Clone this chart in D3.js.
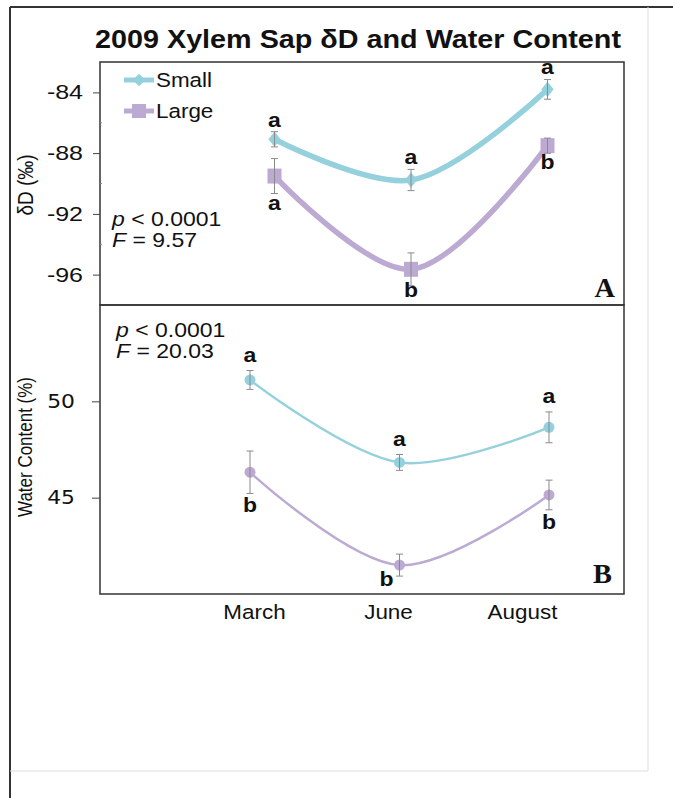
<!DOCTYPE html>
<html>
<head>
<meta charset="utf-8">
<script src="https://cdn.jsdelivr.net/npm/d3@7"></script>
<style>
  body { margin: 0; background: #fff; }
</style>
</head>
<body>
<div id="chart"></div>
<script>
// DATA
const months = ["March", "June", "August"]
const dTicks = [-84, -88, -92, -96]
const dMinor = [-86, -90, -94]
const wcTicks = [45, 50]

const smallD = [-87.09, -89.77, -83.80]
const smallDErr = [0.5, 0.7, 0.65]
const largeD = [-89.51, -95.65, -87.51]
const largeDErr = [1.15, 1.08, 0.5]

const smallWC = [51.11, 46.83, 48.65]
const smallWCErr = [0.49, 0.41, 0.8]
const largeWC = [46.32, 41.5, 45.14]
const largeWCErr = [1.1, 0.57, 0.77]

const smallDLetters = ["a", "a", "a"]
const largeDLetters = ["a", "b", "b"]
const smallWCLetters = ["a", "a", "a"]
const largeWCLetters = ["b", "b", "b"]

const seriesNames = ["Small", "Large"]
const colors = ["#95d0dd", "#bcaad3"]

const width = 673, height = 798
const SX = 1.15   // the figure is a little stretched sideways
const SANS = "'Liberation Sans', Arial, sans-serif"
const SERIF = "'Liberation Serif', 'Times New Roman', serif"

const svg = d3.select("#chart").append("svg")
    .attr("width", width)
    .attr("height", height)

// helper for stretched text
function txt(g, x, y, s, size, opts) {
  opts = opts || {}
  return g.append("text")
    .attr("transform", `translate(${x},${y}) scale(${opts.sx || SX},1)` + (opts.rotate ? " rotate(-90)" : ""))
    .attr("text-anchor", opts.anchor || "start")
    .style("font-size", size + "px")
    .style("font-weight", opts.bold ? "bold" : "normal")
    .style("font-family", opts.family || SANS)
    .attr("fill", "#111")
    .text(s)
}

// OUTER FRAME
svg.append("line").attr("x1", 10).attr("x2", 673).attr("y1", 7).attr("y2", 7)
    .attr("stroke", "#333").attr("stroke-width", 2)
svg.append("line").attr("x1", 10).attr("x2", 10).attr("y1", 7).attr("y2", 798)
    .attr("stroke", "#333").attr("stroke-width", 2)
svg.append("line").attr("x1", 648).attr("x2", 648).attr("y1", 7).attr("y2", 771)
    .attr("stroke", "#ddd").attr("stroke-width", 1)
svg.append("line").attr("x1", 10).attr("x2", 648).attr("y1", 771).attr("y2", 771)
    .attr("stroke", "#ddd").attr("stroke-width", 1)

// TITLE
txt(svg, 358, 48, "2009 Xylem Sap δD and Water Content", 25, {anchor: "middle", bold: true})

// SCALES
const boxL = 100, boxR = 624
const xA = d3.scalePoint().domain(months).range([274.5, 547.5])
const xB = d3.scalePoint().domain(months).range([250, 549])
const xLab = d3.scalePoint().domain(months).range([254, 522])

const yA = d3.scaleLinear().domain([-98, -82]).range([305, 62])
const yB = d3.scaleLinear().domain([40, 55]).range([594, 305])

// PANEL BOXES
svg.append("rect").attr("x", boxL).attr("y", yA(-82)).attr("width", boxR - boxL).attr("height", yA(-98) - yA(-82))
    .attr("fill", "none").attr("stroke", "#333").attr("stroke-width", 1.5)
svg.append("rect").attr("x", boxL).attr("y", yB(55)).attr("width", boxR - boxL).attr("height", yB(40) - yB(55))
    .attr("fill", "none").attr("stroke", "#333").attr("stroke-width", 1.5)

// AXES
const axA = svg.append("g").attr("transform", `translate(${boxL},0)`)
    .call(d3.axisLeft(yA).tickValues(dTicks).tickSize(7).tickPadding(4).tickFormat(d => String(d)))
axA.select(".domain").remove()
axA.selectAll(".tick line").attr("stroke", "#444")
axA.selectAll(".tick text")
    .style("font-size", "20px").style("font-family", SANS).attr("fill", "#111")
    .attr("transform", "scale(1.25,1)").attr("x", -17 / 1.25)

svg.append("g").selectAll("line").data(dMinor).join("line")
    .attr("x1", boxL).attr("x2", boxL + 2)
    .attr("y1", d => yA(d)).attr("y2", d => yA(d))
    .attr("stroke", "#888")

const axB = svg.append("g").attr("transform", `translate(${boxL},0)`)
    .call(d3.axisLeft(yB).tickValues(wcTicks).tickSize(8).tickPadding(4))
axB.select(".domain").remove()
axB.selectAll(".tick line").attr("stroke", "#444")
axB.selectAll(".tick text")
    .style("font-size", "19px").style("font-family", "'DejaVu Sans', sans-serif").attr("fill", "#111")
    .attr("transform", `scale(${SX},1)`).attr("x", -25 / SX)

const axX = svg.append("g").attr("transform", `translate(0,${yB(40)})`)
    .call(d3.axisBottom(xLab).tickSize(0).tickPadding(11))
axX.select(".domain").remove()
axX.selectAll(".tick text")
    .style("font-size", "19.5px").style("font-family", SANS).attr("fill", "#111")
    .attr("transform", `scale(${SX},1)`)

// AXIS TITLES
txt(svg, 33, 185, "δD (‰)", 19, {anchor: "middle", rotate: true})
txt(svg, 32, 447, "Water Content (%)", 17, {anchor: "middle", rotate: true})

// LINES
const curve = d3.curveCatmullRom.alpha(0.5)

function drawSeries(x, y, vals, errs, color, lw, marker, letters, aboveOff, belowOff, above) {
  const pts = vals.map((v, i) => ({m: months[i], v: v, e: errs[i], l: letters[i]}))
  const line = d3.line().x(d => x(d.m)).y(d => y(d.v)).curve(curve)
  svg.append("path").datum(pts).attr("d", line)
      .attr("fill", "none").attr("stroke", color).attr("stroke-width", lw)
      .attr("stroke-linecap", "round")

  const g = svg.append("g")
  if (marker === "diamond") {
    g.selectAll("path").data(pts).join("path")
        .attr("d", d3.symbol().type(d3.symbolDiamond2).size(120))
        .attr("transform", d => `translate(${x(d.m)},${y(d.v)}) scale(0.9,1.1)`)
        .attr("fill", color)
  } else if (marker === "square") {
    g.selectAll("rect").data(pts).join("rect")
        .attr("x", d => x(d.m) - 7).attr("y", d => y(d.v) - 7.5)
        .attr("width", 14).attr("height", 15)
        .attr("fill", color)
  } else {
    g.selectAll("circle").data(pts).join("circle")
        .attr("cx", d => x(d.m)).attr("cy", d => y(d.v)).attr("r", 5.5)
        .attr("fill", color)
  }

  // ERROR BARS
  const eb = svg.append("g").attr("stroke", "#8a8a8a").attr("stroke-width", 1)
  eb.selectAll(".v").data(pts).join("line")
      .attr("x1", d => x(d.m)).attr("x2", d => x(d.m))
      .attr("y1", d => y(d.v + d.e)).attr("y2", d => y(d.v - d.e))
  eb.selectAll(".t").data(pts).join("line")
      .attr("x1", d => x(d.m) - 3.5).attr("x2", d => x(d.m) + 3.5)
      .attr("y1", d => y(d.v + d.e)).attr("y2", d => y(d.v + d.e))
  eb.selectAll(".b").data(pts).join("line")
      .attr("x1", d => x(d.m) - 3.5).attr("x2", d => x(d.m) + 3.5)
      .attr("y1", d => y(d.v - d.e)).attr("y2", d => y(d.v - d.e))

  // SIGNIFICANCE LETTERS
  const floor = y.range()[0] - 8
  pts.forEach(d => {
    let xx = x(d.m)
    let yy = above ? y(d.v + d.e) - aboveOff : y(d.v - d.e) + belowOff
    if (yy > floor) {
      // too close to the bottom of the box: nudge up, and sideways if needed
      if (yy - floor > 5) xx -= 13
      yy = floor
    }
    txt(svg, xx, yy, d.l, 20, {anchor: "middle", bold: true})
  })
}

drawSeries(xA, yA, smallD, smallDErr, colors[0], 5.5, "diamond", smallDLetters, 5, 16, true)
drawSeries(xA, yA, largeD, largeDErr, colors[1], 5.5, "square", largeDLetters, 5, 16, false)
drawSeries(xB, yB, smallWC, smallWCErr, colors[0], 2.5, "circle", smallWCLetters, 9, 19, true)
drawSeries(xB, yB, largeWC, largeWCErr, colors[1], 2.5, "circle", largeWCLetters, 9, 19, false)

// LEGEND
const legend = svg.append("g")
seriesNames.forEach((name, i) => {
  const ly = 80 + i * 31
  legend.append("line").attr("x1", 124).attr("x2", 154).attr("y1", ly).attr("y2", ly)
      .attr("stroke", colors[i]).attr("stroke-width", 5)
  if (i === 0) {
    legend.append("path").attr("d", d3.symbol().type(d3.symbolDiamond2).size(100))
        .attr("transform", `translate(139,${ly})`).attr("fill", colors[i])
  } else {
    legend.append("rect").attr("x", 132).attr("y", ly - 7).attr("width", 14).attr("height", 14)
        .attr("fill", colors[i])
  }
  txt(legend, 156, ly + 7, name, 19.5)
})

// STATS TEXT
function stats(x, y, fval) {
  const t1 = txt(svg, x, y, "", 20)
  t1.append("tspan").style("font-style", "italic").text("p")
  t1.append("tspan").text(" < 0.0001")
  const t2 = txt(svg, x, y + 21, "", 20)
  t2.append("tspan").style("font-style", "italic").text("F")
  t2.append("tspan").text(" = " + fval)
}
stats(112, 226, "9.57")
stats(116, 337, "20.03")

// PANEL LETTERS
txt(svg, 615, 297, "A", 27, {anchor: "end", bold: true, family: SERIF, sx: 1.05})
txt(svg, 612, 583, "B", 27, {anchor: "end", bold: true, family: SERIF, sx: 1.05})
</script>
</body>
</html>
